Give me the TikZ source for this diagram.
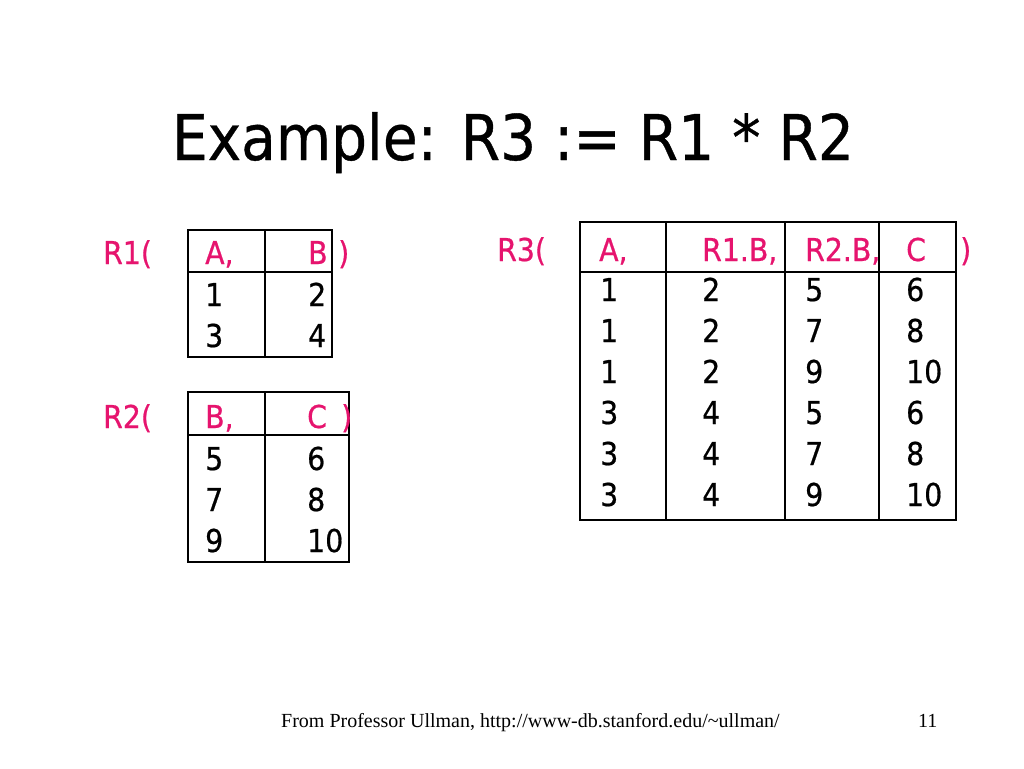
\documentclass[tikz,border=0pt]{standalone}
\usepackage{fontspec}
\usepackage{tikz}
\setmainfont[FakeBold=0.6]{DejaVu Sans Condensed}
\newfontfamily\footfont{Liberation Serif}
\definecolor{relpink}{RGB}{230,20,110}

\begin{document}
\begin{tikzpicture}[x=1pt,y=-1pt,
        cell/.style={anchor=base west,inner sep=0pt,font=\fontsize{31.5}{31.5}\selectfont},
        attr/.style={cell,text=relpink},
        frame/.style={draw=black,line width=1.2pt},
        foot/.style={anchor=base west,inner sep=0pt,font=\footfont\fontsize{20}{20}\selectfont}]
        \useasboundingbox (0,0) rectangle (1024,768);
        \node[anchor=base,inner sep=0pt,font=\fontsize{63}{63}\selectfont] (title) at (513,160) {Example: R3 := R1 * R2};
        % R1
        \draw[frame] (188,230) rectangle (332,357);
        \draw[frame] (188,272) -- (332,272) (265,230) -- (265,357);
        \node[attr] (R1) at (103,264) {R1(};
        \node[attr] (R1A) at (205,264) {A,};
        \node[attr] (R1B) at (308,264) {B};
        \node[attr] (R1close) at (338,264) {)};
        \foreach \a/\b [count=\i] in {1/2,3/4}{
            \node[cell] (R1a\i) at (205,{306+41*(\i-1)}) {\a};
            \node[cell] (R1b\i) at (308,{306+41*(\i-1)}) {\b};
        }
        % R2
        \draw[frame] (188,392) rectangle (349,562);
        \draw[frame] (188,435) -- (349,435) (265,392) -- (265,562);
        \node[attr] (R2) at (103,428) {R2(};
        \node[attr] (R2B) at (205,428) {B,};
        \node[attr] (R2C) at (307,428) {C};
        \node[attr] (R2close) at (341,428) {)};
        \foreach \b/\c [count=\i] in {5/6,7/8,9/10}{
            \node[cell] (R2b\i) at (205,{470+41*(\i-1)}) {\b};
            \node[cell] (R2c\i) at (307,{470+41*(\i-1)}) {\c};
        }
        % R3
        \draw[frame] (580,222) rectangle (956,520);
        \draw[frame] (580,272) -- (956,272) (666,222) -- (666,520)
            (785,222) -- (785,520) (879,222) -- (879,520);
        \node[attr] (R3) at (497,261) {R3(};
        \node[attr] (R3A) at (599,261) {A,};
        \node[attr] (R3R1B) at (702,261) {R1.B,};
        \node[attr] (R3R2B) at (805,261) {R2.B,};
        \node[attr] (R3C) at (906,261) {C};
        \node[attr] (R3close) at (960,261) {)};
        \foreach \a/\b/\c/\d [count=\i] in {1/2/5/6,1/2/7/8,1/2/9/10,3/4/5/6,3/4/7/8,3/4/9/10}{
            \node[cell] (R3a\i) at (600,{301+41*(\i-1)}) {\a};
            \node[cell] (R3b\i) at (702,{301+41*(\i-1)}) {\b};
            \node[cell] (R3c\i) at (805,{301+41*(\i-1)}) {\c};
            \node[cell] (R3d\i) at (906,{301+41*(\i-1)}) {\d};
        }
        % footer
        \node[foot] (source) at (281,727) {From Professor Ullman, http://www-db.stanford.edu/\textasciitilde ullman/};
        \node[foot] (page) at (918,727) {11};
    \end{tikzpicture}
\end{document}
